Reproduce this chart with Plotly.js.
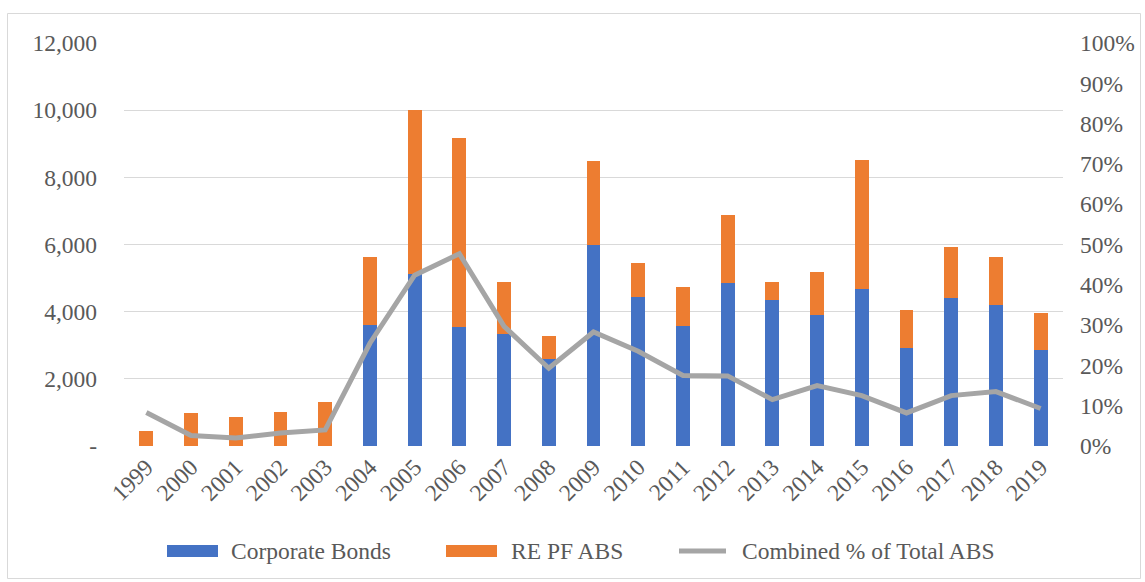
<!DOCTYPE html>
<html>
<head>
<meta charset="utf-8">
<script src="https://cdn.plot.ly/plotly-3.0.1.min.js"></script>
<style>html,body{margin:0;padding:0;background:#fff;}#chart{width:1145px;height:582px;}</style>
</head>
<body>
<div id="chart"></div>
<script>
var years = ["1999","2000","2001","2002","2003","2004","2005","2006","2007","2008","2009","2010","2011","2012","2013","2014","2015","2016","2017","2018","2019"];
var corporateBonds = [0,0,0,0,0,3610,5110,3550,3350,2590,5990,4440,3580,4850,4345,3890,4680,2920,4420,4205,2845];
var rePfAbs = [455,990,870,1020,1320,2015,4910,5635,1530,695,2490,1015,1140,2015,535,1290,3850,1135,1520,1410,1130];
var combinedPct = [8.3,2.6,2.0,3.2,4.0,25.5,42.4,47.7,29.7,19.3,28.3,23.5,17.5,17.4,11.5,15.0,12.5,8.2,12.5,13.5,9.3];
var leftTickVals = [0,2000,4000,6000,8000,10000,12000];
var leftTickText = ["-","2,000","4,000","6,000","8,000","10,000","12,000"];
var rightTickVals = [0,10,20,30,40,50,60,70,80,90,100];
var rightTickText = ["0%","10%","20%","30%","40%","50%","60%","70%","80%","90%","100%"];
var seriesNames = ["Corporate Bonds","RE PF ABS","Combined % of Total ABS"];
var seriesColors = ["#4472C4","#ED7D31","#A5A5A5"];

var W = 1145, H = 582;
var L = 124, R = 1063, T = 43, B = 446;
function px(x){ return (x - L) / (R - L); }
function py(y){ return (B - y) / (B - T); }

var txt = "#595959";
var fnt = {family: "Liberation Serif, Times New Roman, serif", size: 23.5, color: txt};

var traces = [
  {type: "bar", x: years, y: corporateBonds, name: seriesNames[0], marker: {color: seriesColors[0]}, showlegend: false},
  {type: "bar", x: years, y: rePfAbs, name: seriesNames[1], marker: {color: seriesColors[1]}, showlegend: false},
  {type: "scatter", mode: "lines", x: years, y: combinedPct, name: seriesNames[2], yaxis: "y2",
   line: {color: seriesColors[2], width: 5}, showlegend: false}
];

var shapes = [
  {type: "rect", xref: "paper", yref: "paper", x0: px(7.5), x1: px(1140.5), y0: py(13.5), y1: py(578.5),
   line: {color: "#d9d9d9", width: 1}, fillcolor: "rgba(0,0,0,0)", layer: "below"}
];
var annotations = [];
var legendItems = [
  {sx0: 167, sx1: 218, tx: 229, kind: "box"},
  {sx0: 446, sx1: 497, tx: 509, kind: "box"},
  {sx0: 677, sx1: 728, tx: 740, kind: "line"}
];
var ly = 551;
legendItems.forEach(function(it, i){
  if (it.kind === "box") {
    shapes.push({type: "rect", xref: "paper", yref: "paper", x0: px(it.sx0), x1: px(it.sx1),
      y0: py(ly + 6), y1: py(ly - 6), line: {width: 0}, fillcolor: seriesColors[i]});
  } else {
    shapes.push({type: "line", xref: "paper", yref: "paper", x0: px(it.sx0 + 2), x1: px(it.sx1 - 2),
      y0: py(ly), y1: py(ly), line: {color: seriesColors[i], width: 5, cap: "round"}});
  }
  annotations.push({xref: "paper", yref: "paper", x: px(it.tx), y: py(ly), xanchor: "left", yanchor: "middle",
    text: seriesNames[i], showarrow: false, font: fnt});
});

var layout = {
  width: W, height: H,
  margin: {l: L, r: W - R, t: T, b: H - B, pad: 0},
  paper_bgcolor: "#ffffff", plot_bgcolor: "#ffffff",
  font: fnt,
  barmode: "stack",
  bargap: 0.69,
  showlegend: false,
  xaxis: {type: "category", tickangle: -45, showgrid: false, zeroline: false, showline: false,
          ticks: "", tickfont: fnt, ticklabelstandoff: 2},
  yaxis: {range: [0, 12000], tickvals: leftTickVals, ticktext: leftTickText, showgrid: true,
          gridcolor: "#d9d9d9", gridwidth: 1, zeroline: false, showline: false, ticks: "",
          tickfont: fnt, ticklabelstandoff: 26, fixedrange: true},
  yaxis2: {range: [0, 100], overlaying: "y", side: "right", tickvals: rightTickVals, ticktext: rightTickText,
           showgrid: false, zeroline: false, showline: false, ticks: "", tickfont: fnt, ticklabelstandoff: 16},
  shapes: shapes,
  annotations: annotations
};

Plotly.newPlot("chart", traces, layout, {displayModeBar: false, staticPlot: true});
</script>
</body>
</html>
